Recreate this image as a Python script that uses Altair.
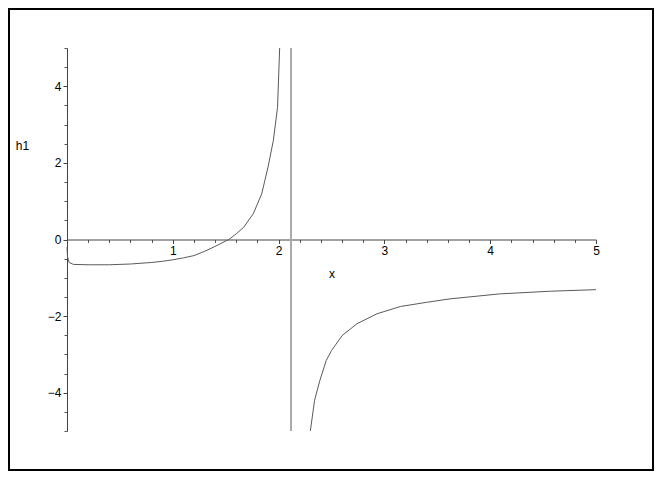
import altair as alt
import pandas as pd

# curve: left branch (before the pole) and right branch
left_x = [0.0, 0.005, 0.02, 0.06, 0.2, 0.4, 0.6, 0.8, 0.9, 1.0, 1.1, 1.2, 1.3, 1.4, 1.5,
          1.53, 1.6, 1.67, 1.76, 1.84, 1.90, 1.95, 1.99, 2.01]
left_y = [-0.2, -0.45, -0.6, -0.65, -0.66, -0.66, -0.64, -0.6, -0.57, -0.53, -0.48, -0.42,
          -0.31, -0.18, -0.04, 0.0, 0.15, 0.32, 0.67, 1.19, 1.89, 2.58, 3.45, 5.0]
right_x = [2.30, 2.34, 2.39, 2.45, 2.50, 2.60, 2.74, 2.93, 3.15, 3.4, 3.62, 4.09,
           4.57, 5.0]
right_y = [-5.0, -4.2, -3.68, -3.16, -2.9, -2.51, -2.2, -1.94, -1.75, -1.64, -1.55,
           -1.42, -1.35, -1.31]
asymptote_x = 2.117

x_major = [0, 1, 2, 3, 4, 5]
x_minor = [0.2, 0.4, 0.6, 0.8, 1.2, 1.4, 1.6, 1.8, 2.2, 2.4, 2.6, 2.8,
           3.2, 3.4, 3.6, 3.8, 4.2, 4.4, 4.6, 4.8]
y_major = [-4, -2, 0, 2, 4]
y_minor = [-4.5, -3.5, -3, -2.5, -1.5, -1, -0.5, 0.5, 1, 1.5, 2.5, 3, 3.5, 4.5, 5, -5]

df = pd.DataFrame({
    "x": left_x + right_x,
    "y": left_y + right_y,
    "branch": ["a"] * len(left_x) + ["b"] * len(right_x),
})

W, H = 529, 383
PL, PT, PR, PB = 59, 40, 58, 40
FONT = "Liberation Sans"

xs = alt.Scale(domain=[0, 5], nice=False, zero=False)
ys = alt.Scale(domain=[-5, 5], nice=False, zero=False)

minor_x_axis = alt.Axis(orient="bottom", offset=-H / 2, values=x_minor, labels=False,
                        tickSize=3, tickColor="#555", domain=False, grid=False, title=None)
minor_y_axis = alt.Axis(orient="left", values=y_minor, labels=False, tickSize=3,
                        tickColor="#555", domain=False, grid=False, title=None)

curve = alt.Chart(df).mark_line(color="#5a5a5a", strokeWidth=1).encode(
    x=alt.X("x:Q", scale=xs, axis=minor_x_axis),
    y=alt.Y("y:Q", scale=ys, axis=minor_y_axis),
    detail="branch:N",
)

major_x_axis = alt.Axis(
    orient="bottom", offset=-H / 2, values=x_major, tickSize=4, tickColor="#444",
    domainColor="#444", domainWidth=1, grid=False, labelFlush=False,
    labelExpr="datum.value == 0 ? '' : datum.label",
    labelFont=FONT, labelFontSize=12, labelColor="black", labelPadding=2,
    title="x", titleFont=FONT, titleFontSize=12, titleFontWeight="normal",
    titleColor="black", titleY=34, titleBaseline="middle",
)
major_y_axis = alt.Axis(
    orient="left", values=y_major, tickSize=4, tickColor="#444",
    domainColor="#444", domainWidth=1, grid=False, labelFlush=False,
    labelFont=FONT, labelFontSize=12, labelColor="black", labelPadding=2,
    title="h1", titleFont=FONT, titleFontSize=12, titleFontWeight="normal",
    titleColor="black", titleAngle=0, titleX=-45, titleY=97,
    titleAlign="center", titleBaseline="middle",
)

pole = alt.Chart(pd.DataFrame({"x": [asymptote_x]})).mark_rule(
    color="#aaaaaa", strokeWidth=2
).encode(
    x=alt.X("x:Q", scale=xs, axis=major_x_axis),
    y=alt.datum(-5, scale=ys, axis=major_y_axis),
    y2=alt.datum(5),
)

frame = alt.Chart(pd.DataFrame({"k": [0]})).mark_rect(
    filled=False, stroke="black", strokeWidth=2
).encode(
    x=alt.value(-PL + 1), x2=alt.value(W + PR - 1),
    y=alt.value(-PT + 1), y2=alt.value(H + PB - 1),
)

chart = alt.layer(frame, curve, pole).resolve_scale(
    x="independent", y="independent"
).resolve_axis(x="independent", y="independent").properties(
    width=W, height=H,
    autosize=alt.AutoSizeParams(type="none"),
    padding={"left": PL, "top": PT, "right": PR, "bottom": PB},
    view=alt.ViewBackground(stroke="transparent", strokeWidth=0, strokeOpacity=0),
).configure_view(strokeWidth=0, strokeOpacity=0).configure(background="white")

chart.save("out.html", embed_options={"renderer": "svg", "actions": False})
